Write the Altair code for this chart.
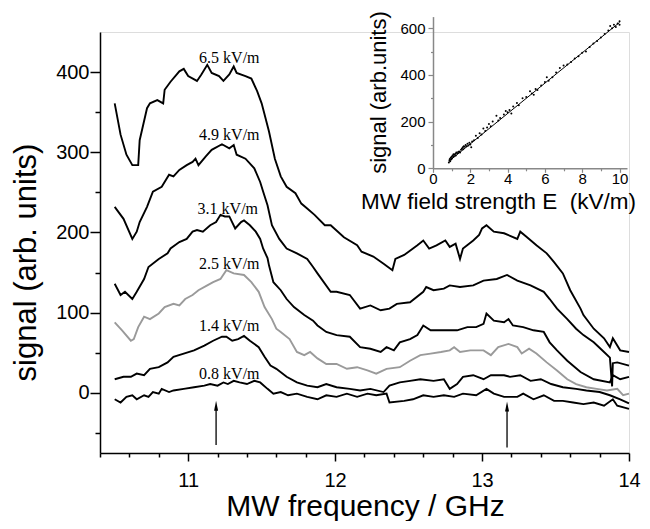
import altair as alt
import pandas as pd

# ---------------- main spectra (MW frequency in GHz, signal in arb. units) ----------------
series_names = ["6.5 kV/m", "4.9 kV/m", "3.1 kV/m", "2.5 kV/m", "1.4 kV/m", "0.8 kV/m"]
series_colors = ["#000000", "#000000", "#000000", "#9a9a9a", "#000000", "#000000"]
series_widths = [1.9, 1.9, 1.9, 1.9, 1.9, 1.2]

freq_65 = [10.50, 10.54, 10.58, 10.62, 10.66, 10.67, 10.72, 10.74, 10.79, 10.83, 10.84, 10.88, 10.94, 10.97,
           11.00, 11.06, 11.09, 11.13, 11.16, 11.21, 11.24, 11.28, 11.31, 11.33, 11.39, 11.43, 11.47, 11.50,
           11.52, 11.55, 11.59, 11.63, 11.67, 11.73, 11.77, 11.81, 11.86, 11.93, 11.97, 12.06, 12.15, 12.18,
           12.26, 12.33, 12.36, 12.39, 12.41, 12.47, 12.50, 12.56, 12.60, 12.64, 12.69, 12.75, 12.78, 12.82,
           12.85, 12.87, 12.94, 12.98, 13.00, 13.03, 13.08, 13.15, 13.24, 13.26, 13.30, 13.37, 13.44, 13.49,
           13.55, 13.60, 13.67, 13.69, 13.76, 13.83, 13.87, 13.89, 13.94, 14.00]
sig_65 = [361, 322, 297, 284, 284, 315, 355, 361, 365, 361, 378, 388, 401, 404,
          395, 389, 397, 409, 399, 395, 389, 397, 407, 399, 395, 392, 376, 361,
          347, 326, 292, 270, 257, 249, 236, 230, 222, 209, 209, 194, 184, 176,
          170, 161, 157, 153, 167, 172, 176, 184, 190, 180, 184, 190, 182, 186,
          167, 180, 190, 197, 205, 209, 201, 199, 192, 201, 195, 184, 174, 163,
          149, 128, 105, 97, 80, 68, 57, 68, 53, 51]

freq_49 = [10.50, 10.56, 10.62, 10.65, 10.67, 10.72, 10.76, 10.82, 10.87, 10.90, 10.94, 10.99, 11.03, 11.05,
           11.07, 11.12, 11.16, 11.23, 11.28, 11.31, 11.33, 11.39, 11.45, 11.49, 11.51, 11.54, 11.57, 11.62,
           11.67, 11.74, 11.81, 11.85, 11.88, 11.97, 12.01, 12.10, 12.17, 12.24, 12.31, 12.37, 12.42, 12.51,
           12.60, 12.62, 12.67, 12.74, 12.78, 12.85, 12.94, 13.01, 13.10, 13.17, 13.24, 13.33, 13.42, 13.46,
           13.51, 13.58, 13.64, 13.69, 13.76, 13.83, 13.87, 13.885, 13.89, 13.92, 14.00]
sig_49 = [232, 217, 192, 201, 213, 232, 251, 257, 272, 270, 278, 284, 288, 292,
          284, 295, 303, 310, 305, 309, 297, 292, 280, 263, 251, 234, 209, 192,
          180, 174, 167, 157, 149, 126, 126, 122, 105, 109, 103, 105, 111, 113,
          126, 132, 128, 130, 134, 132, 134, 140, 142, 147, 140, 134, 126, 117,
          105, 92, 80, 72, 63, 51, 44, 8, 37, 38, 34]

freq_31 = [10.50, 10.54, 10.57, 10.62, 10.65, 10.70, 10.73, 10.80, 10.86, 10.88, 10.94, 10.99, 11.03, 11.06,
           11.10, 11.15, 11.19, 11.22, 11.25, 11.28, 11.32, 11.36, 11.38, 11.42, 11.46, 11.49, 11.51, 11.54,
           11.55, 11.58, 11.63, 11.67, 11.72, 11.79, 11.85, 11.88, 11.94, 12.01, 12.10, 12.17, 12.24, 12.31,
           12.35, 12.40, 12.44, 12.51, 12.56, 12.60, 12.65, 12.74, 12.83, 12.90, 12.96, 13.01, 13.03, 13.08,
           13.15, 13.18, 13.21, 13.28, 13.35, 13.42, 13.46, 13.51, 13.58, 13.67, 13.76, 13.87, 13.89, 13.94,
           14.00]
sig_31 = [136, 122, 126, 117, 126, 142, 157, 167, 174, 180, 188, 192, 201, 203,
          201, 209, 213, 222, 220, 220, 205, 213, 215, 209, 201, 192, 180, 168,
          159, 138, 128, 117, 107, 97, 90, 84, 76, 72, 70, 57, 55, 51,
          57, 53, 63, 67, 72, 84, 78, 78, 78, 82, 82, 86, 99, 90,
          88, 92, 84, 82, 78, 76, 63, 53, 40, 26, 17, 13, 22, 17,
          20]

freq_25 = [10.50, 10.55, 10.61, 10.63, 10.66, 10.70, 10.74, 10.80, 10.84, 10.90, 10.94, 10.98, 11.03, 11.07,
           11.13, 11.17, 11.22, 11.26, 11.31, 11.38, 11.43, 11.48, 11.52, 11.57, 11.60, 11.63, 11.69, 11.74,
           11.79, 11.83, 11.88, 11.94, 12.01, 12.08, 12.15, 12.22, 12.28, 12.35, 12.44, 12.51, 12.58, 12.65,
           12.72, 12.78, 12.81, 12.85, 12.92, 13.01, 13.06, 13.11, 13.18, 13.24, 13.27, 13.32, 13.37, 13.44,
           13.51, 13.58, 13.64, 13.71, 13.78, 13.85, 13.92, 13.96, 14.00]
sig_25 = [88, 78, 65, 67, 82, 95, 92, 99, 107, 111, 109, 117, 122, 128,
          134, 138, 142, 153, 149, 147, 138, 126, 107, 92, 80, 76, 67, 51,
          47, 51, 43, 36, 36, 30, 32, 28, 24, 30, 32, 40, 47, 49,
          51, 53, 57, 51, 53, 53, 47, 57, 61, 57, 49, 55, 49, 38,
          28, 17, 11, 7, 5, 3, 5, -3, -1]

freq_14 = [10.50, 10.56, 10.61, 10.65, 10.70, 10.74, 10.80, 10.86, 10.90, 10.97, 11.04, 11.11, 11.17, 11.23,
           11.26, 11.30, 11.34, 11.38, 11.42, 11.48, 11.52, 11.56, 11.60, 11.67, 11.74, 11.81, 11.88, 11.94,
           12.01, 12.10, 12.17, 12.24, 12.33, 12.37, 12.44, 12.51, 12.58, 12.67, 12.74, 12.78, 12.83, 12.87,
           12.94, 13.01, 13.06, 13.15, 13.19, 13.26, 13.33, 13.40, 13.47, 13.55, 13.64, 13.71, 13.80, 13.87,
           13.94, 14.00]
sig_14 = [17, 20, 20, 24, 22, 30, 32, 38, 45, 49, 53, 59, 65, 70,
          70, 65, 67, 71, 65, 57, 45, 34, 30, 20, 13, 9, 7, 11,
          7, 5, 3, 5, 1, 9, 13, 15, 17, 15, 17, 5, 11, 20,
          22, 17, 22, 22, 20, 22, 15, 17, 11, 7, 5, 3, 1, -3,
          -8, -13]

freq_08 = [10.50, 10.54, 10.58, 10.62, 10.65, 10.70, 10.73, 10.76, 10.80, 10.82, 10.87, 10.90, 10.97, 11.04,
           11.11, 11.15, 11.20, 11.24, 11.27, 11.31, 11.35, 11.40, 11.45, 11.49, 11.54, 11.58, 11.63, 11.68,
           11.74, 11.81, 11.88, 11.94, 12.01, 12.08, 12.15, 12.22, 12.28, 12.35, 12.37, 12.47, 12.53, 12.60,
           12.67, 12.74, 12.81, 12.87, 12.96, 13.03, 13.08, 13.15, 13.24, 13.28, 13.35, 13.42, 13.49, 13.55,
           13.62, 13.69, 13.76, 13.83, 13.89, 13.92, 14.00]
sig_08 = [-8, -12, -5, -3, -8, -3, -5, 1, -1, 5, 1, 3, 5, 7,
          9, 11, 9, 13, 11, 15, 13, 11, 15, 13, 5, -1, 1, -3,
          -1, -5, -8, -3, -5, -1, -5, -1, -3, -1, -12, -10, -8, -3,
          -5, -3, -5, -1, -3, 5, -1, -5, -5, -1, -8, -3, -10, -10,
          -12, -14, -12, -16, -8, -16, -20]

all_freq = [freq_65, freq_49, freq_31, freq_25, freq_14, freq_08]
all_sig = [sig_65, sig_49, sig_31, sig_25, sig_14, sig_08]

# curve labels
label_text = ["6.5 kV/m", "4.9 kV/m", "3.1 kV/m", "2.5 kV/m", "1.4 kV/m", "0.8 kV/m"]
label_freq = [11.28, 11.28, 11.27, 11.28, 11.28, 11.28]
label_signal = [417, 321, 229, 161, 83, 24]

# arrows marking the two resonances
arrow_freq = [11.19, 13.17]
arrow_base = [-65, -68]
arrow_shaft_top = [-18, -19]
arrow_head = [-16, -17]

# axis tick values
x_major_ticks = [11, 12, 13, 14]
x_minor_ticks = [10.4, 10.6, 10.8, 11.2, 11.4, 11.6, 11.8, 12.2, 12.4, 12.6, 12.8,
                 13.2, 13.4, 13.6, 13.8]
y_major_ticks = [0, 100, 200, 300, 400]
y_minor_ticks = [-50, 50, 150, 250, 350]

# ---------------- inset: signal vs field strength ----------------
inset_E = [0.85, 0.88, 0.90, 0.92, 0.95, 0.97, 1.00, 1.02, 1.05, 1.08, 1.10, 1.12, 1.15, 1.20, 1.22,
           1.25, 1.30, 1.35, 1.40, 1.45, 1.50, 1.55, 1.60, 1.62, 1.65, 1.70, 1.75, 1.80, 1.85, 1.90,
           1.95, 2.00, 2.05, 2.10, 2.20, 2.30, 2.40, 2.50, 2.60, 2.70, 2.80, 2.90, 3.00, 3.10, 3.20,
           3.40, 3.50, 3.60, 3.80, 3.90, 4.00, 4.10, 4.20, 4.30, 4.50, 4.60, 4.80, 5.00, 5.20, 5.30,
           5.40, 5.50, 5.60, 5.80, 6.00, 6.10, 6.20, 6.40, 6.60, 6.80, 7.00, 7.20, 7.40, 7.60, 7.80,
           8.00, 8.20, 8.40, 8.60, 8.80, 9.00, 9.20, 9.40, 9.50, 9.60, 9.70, 9.80, 9.90, 10.00, 10.00]
inset_signal = [25, 35, 40, 30, 45, 38, 50, 42, 55, 48, 60, 52, 58, 62, 55,
                68, 65, 70, 72, 68, 80, 85, 90, 82, 95, 92, 100, 95, 105, 98,
                110, 102, 90, 115, 120, 140, 130, 150, 145, 170, 160, 175, 190, 180, 200,
                225, 205, 215, 230, 245, 240, 250, 235, 265, 280, 270, 300, 305, 330, 320,
                315, 340, 335, 355, 370, 390, 375, 390, 410, 430, 440, 445, 455, 470, 480,
                495, 500, 520, 535, 545, 560, 575, 590, 610, 600, 615, 605, 620, 630, 615]
fit_E = [0.85, 10.0]
fit_signal = [30, 625]
ix_major_ticks = [0, 2, 4, 6, 8, 10]
ix_minor_ticks = [1, 3, 5, 7, 9]
iy_major_ticks = [0, 200, 400, 600]
iy_minor_ticks = [100, 300, 500]

# ---------------- build tables ----------------
rows = []
for name, fs, ss in zip(series_names, all_freq, all_sig):
    for i, (f, s) in enumerate(zip(fs, ss)):
        rows.append({"series": name, "freq": f, "signal": s, "idx": i})
curves_df = pd.DataFrame(rows)
labels_df = pd.DataFrame({"text": label_text, "freq": label_freq, "signal": label_signal})
arrows_df = pd.DataFrame({"freq": arrow_freq, "base": arrow_base, "top": arrow_shaft_top, "head": arrow_head})
inset_df = pd.DataFrame({"E": inset_E, "signal": inset_signal})
fit_df = pd.DataFrame({"E": fit_E, "signal": fit_signal})

SANS = "Liberation Sans"

xscale = alt.Scale(domain=[10.4, 14.0], nice=False, zero=False)
yscale = alt.Scale(domain=[-75, 450], nice=False, zero=False)

common_main = dict(grid=False, tickColor="black", tickWidth=1.5, domainColor="black", domainWidth=1.5)

xaxis = alt.Axis(
    orient="bottom", values=x_major_ticks, title="MW frequency / GHz", format="d", tickSize=8,
    labelFont=SANS, labelFontSize=20, labelColor="black", labelBaseline="alphabetic",
    labelPadding=25, labelFlush=False, labelOverlap=False,
    titleFont=SANS, titleFontSize=30, titleFontWeight="normal", titleColor="black",
    titleBaseline="alphabetic", titleAlign="center", titleX=265, titleY=62, **common_main,
)
xaxis_minor = alt.Axis(
    orient="bottom", values=x_minor_ticks, title=None, labels=False, tickSize=4, domain=False,
    grid=False, tickColor="black", tickWidth=1.5,
)
yaxis = alt.Axis(
    orient="left", values=y_major_ticks, title="signal (arb. units)", format="d", tickSize=10,
    labelFont=SANS, labelFontSize=20, labelColor="black", labelPadding=1,
    labelFlush=False, labelOverlap=False,
    titleFont=SANS, titleFontSize=31, titleFontWeight="normal", titleColor="black",
    titleBaseline="alphabetic", titleAlign="center", titleAngle=270, titleX=-65, titleY=230,
    **common_main,
)
yaxis_minor = alt.Axis(
    orient="left", values=y_minor_ticks, title=None, labels=False, tickSize=5, domain=False,
    grid=False, tickColor="black", tickWidth=1.5,
)

curves = alt.Chart(curves_df).mark_line(strokeJoin="miter").encode(
    x=alt.X("freq:Q", scale=xscale, axis=xaxis),
    y=alt.Y("signal:Q", scale=yscale, axis=yaxis),
    color=alt.Color("series:N", scale=alt.Scale(domain=series_names, range=series_colors), legend=None),
    strokeWidth=alt.StrokeWidth("series:N", scale=alt.Scale(domain=series_names, range=series_widths), legend=None),
    order=alt.Order("idx:Q"),
)

labels = alt.Chart(labels_df).mark_text(
    font="Liberation Serif", fontSize=16, align="center", baseline="middle", color="black"
).encode(
    x=alt.X("freq:Q", scale=xscale, axis=None),
    y=alt.Y("signal:Q", scale=yscale, axis=None),
    text="text:N",
)

shafts = alt.Chart(arrows_df).mark_rule(color="black", strokeWidth=1.3).encode(
    x=alt.X("freq:Q", scale=xscale, axis=xaxis_minor),
    y=alt.Y("base:Q", scale=yscale, axis=yaxis_minor),
    y2="top:Q",
)
heads = alt.Chart(arrows_df).mark_point(
    shape="M0,-1L0.4,1L-0.4,1Z", filled=True, color="black", size=100, opacity=1
).encode(
    x=alt.X("freq:Q", scale=xscale, axis=None),
    y=alt.Y("head:Q", scale=yscale, axis=None),
)

main = alt.layer(curves, labels, shafts, heads).resolve_axis(x="independent", y="independent")

# inset scales placed inside the main plot area
ix_scale = alt.Scale(domain=[0, 10.4], range=[333, 527], nice=False, zero=False)
iy_scale = alt.Scale(domain=[0, 650], range=[136.3, -15.4], nice=False, zero=False)
GREY = "#888888"

ix_axis = alt.Axis(
    orient="bottom", offset=-284.7, values=ix_major_ticks, title="MW field strength E\u00a0 (kV/m)",
    format="d", grid=False, tickSize=4,
    tickColor=GREY, tickWidth=1.2, domainColor=GREY, domainWidth=1.5,
    labelFont=SANS, labelFontSize=15, labelColor="black", labelBaseline="alphabetic",
    labelPadding=11.5, labelFlush=False, labelOverlap=False,
    titleFont=SANS, titleFontSize=22.5, titleFontWeight="normal", titleColor="black",
    titleBaseline="alphabetic", titleAlign="center", titleX=398, titleY=40,
)
ix_axis_minor = alt.Axis(
    orient="bottom", offset=-284.7, values=ix_minor_ticks, title=None, labels=False,
    tickSize=2.5, domain=False, grid=False, tickColor=GREY, tickWidth=1.2,
)
iy_axis = alt.Axis(
    orient="left", offset=-333, values=iy_major_ticks, title="signal (arb.units)",
    format="d", grid=False, tickSize=5,
    tickColor=GREY, tickWidth=1.2, domainColor=GREY, domainWidth=1.5,
    labelFont=SANS, labelFontSize=15, labelColor="black", labelPadding=3,
    labelFlush=False, labelOverlap=False,
    titleFont=SANS, titleFontSize=22, titleFontWeight="normal", titleColor="black",
    titleBaseline="alphabetic", titleAlign="center", titleAngle=270, titleX=-48, titleY=60,
)
iy_axis_minor = alt.Axis(
    orient="left", offset=-333, values=iy_minor_ticks, title=None, labels=False,
    tickSize=2.5, domain=False, grid=False, tickColor=GREY, tickWidth=1.2,
)

inset_pts = alt.Chart(inset_df).mark_circle(color="black", size=4, opacity=1).encode(
    x=alt.X("E:Q", scale=ix_scale, axis=ix_axis),
    y=alt.Y("signal:Q", scale=iy_scale, axis=iy_axis),
)
inset_fit = alt.Chart(fit_df).mark_line(color="black", strokeWidth=1).encode(
    x=alt.X("E:Q", scale=ix_scale, axis=ix_axis_minor),
    y=alt.Y("signal:Q", scale=iy_scale, axis=iy_axis_minor),
)
inset = alt.layer(inset_pts, inset_fit).resolve_axis(x="independent", y="independent")

chart = alt.layer(main, inset).resolve_scale(x="independent", y="independent").properties(
    width=529, height=421,
    autosize=alt.AutoSizeParams(type="none"),
    padding={"left": 92, "top": 24, "right": 13, "bottom": 68},
).configure_view(stroke=None).configure(background="white")

chart.save("out.html", embed_options={"renderer": "svg", "actions": False})
